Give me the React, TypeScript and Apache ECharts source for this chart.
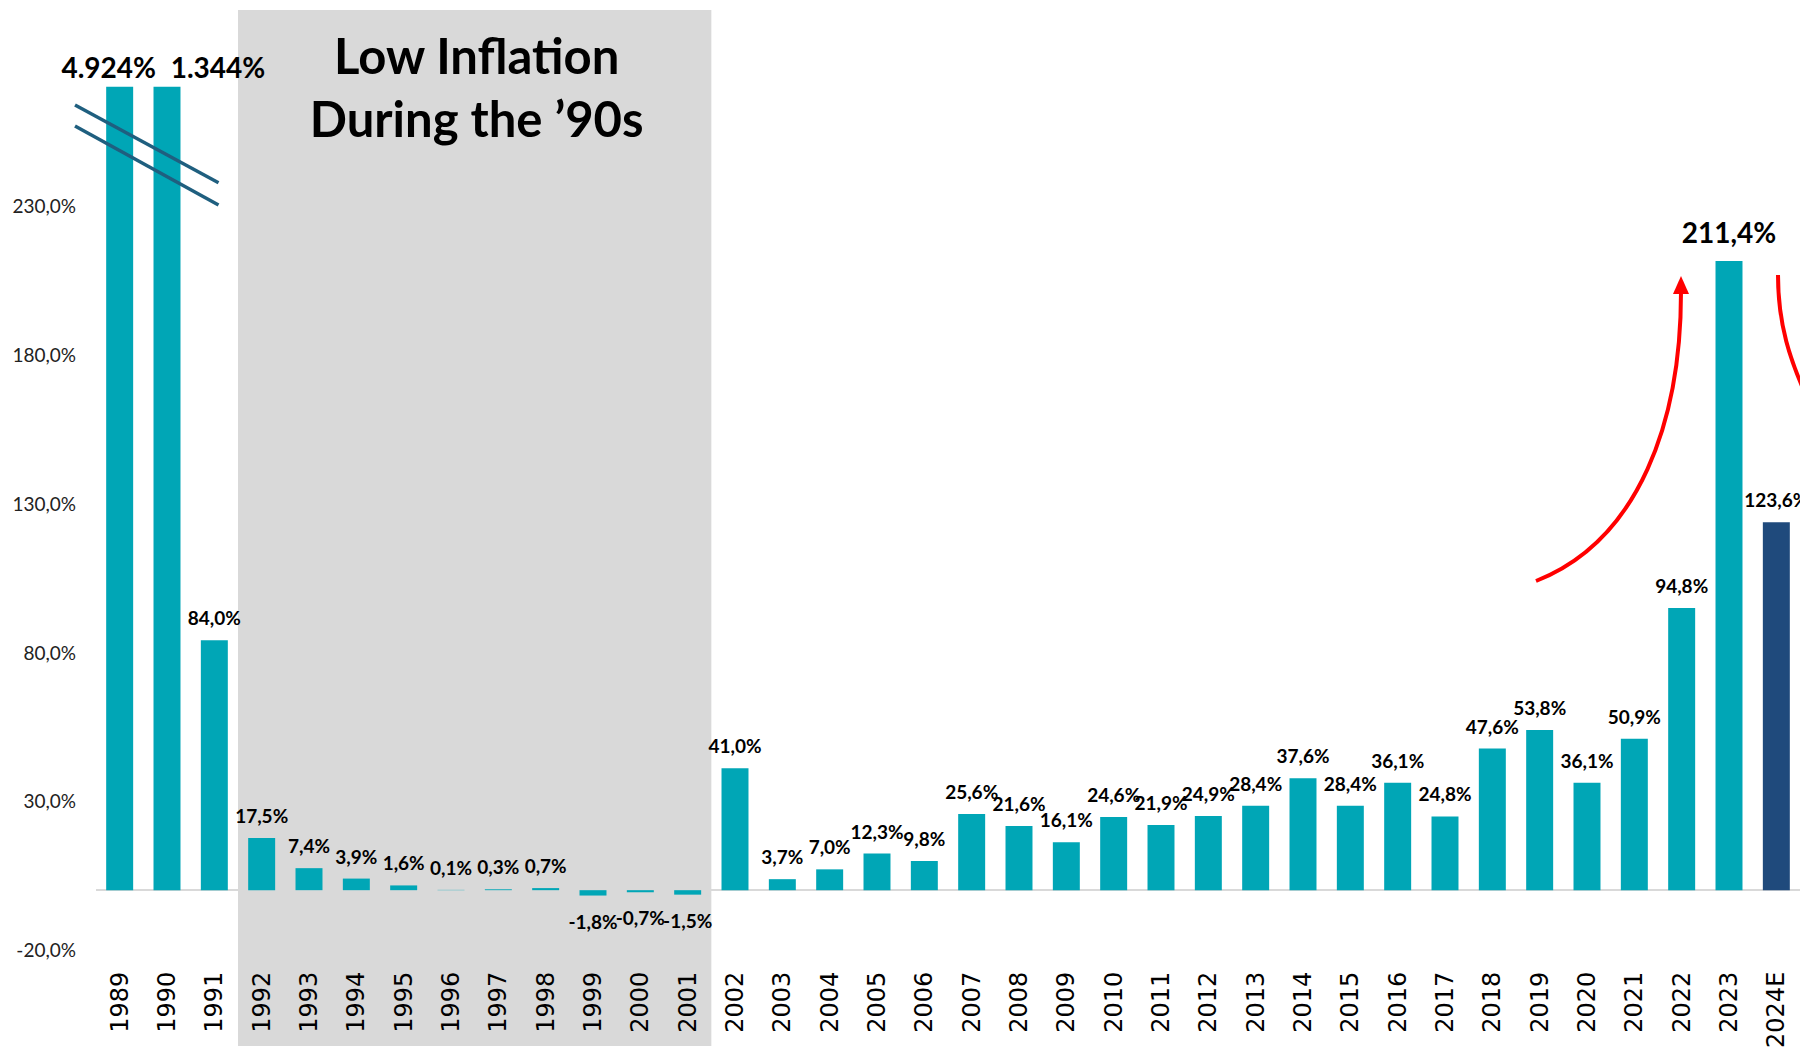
import React, { useEffect, useRef } from "react";
import * as echarts from "echarts";

// ---- data ----
const years = [
  "1989", "1990", "1991", "1992", "1993", "1994", "1995", "1996", "1997", "1998",
  "1999", "2000", "2001", "2002", "2003", "2004", "2005", "2006", "2007", "2008",
  "2009", "2010", "2011", "2012", "2013", "2014", "2015", "2016", "2017", "2018",
  "2019", "2020", "2021", "2022", "2023", "2024E",
];
const inflation = [
  4924, 1344, 84.0, 17.5, 7.4, 3.9, 1.6, 0.1, 0.3, 0.7,
  -1.8, -0.7, -1.5, 41.0, 3.7, 7.0, 12.3, 9.8, 25.6, 21.6,
  16.1, 24.6, 21.9, 24.9, 28.4, 37.6, 28.4, 36.1, 24.8, 47.6,
  53.8, 36.1, 50.9, 94.8, 211.4, 123.6,
];
const estimateYears = ["2024E"];
const emphasizedYears = ["1989", "1990", "2023"];
const yTickValues = [-20, 30, 80, 130, 180, 230];
const shadedFrom = "1992";
const shadedTo = "2001";
const shadedTitle = ["Low Inflation", "During the \u201990s"];

// ---- layout / style ----
const W = 1800;
const H = 1051;
const GRID_LEFT = 96;
const GRID_RIGHT = 0;
const GRID_TOP = 86.7;
const GRID_BOTTOM = 101.3;
const Y_MIN = -20;
const Y_MAX = 270;
const TEAL = "#00a6b6";
const NAVY = "#1f4a7c";
const FONT = "Lato, 'Noto Sans', sans-serif";
const labelOffsets: Record<string, [number, number]> = {
  "1989": [-11, 0],
  "1990": [51, 0],
};

function fmtPct(v: number): string {
  if (Math.abs(v) >= 1000) {
    const s = Math.round(v).toString();
    return s.replace(/\B(?=(\d{3})+(?!\d))/g, ".") + "%";
  }
  return v.toFixed(1).replace(".", ",") + "%";
}

export default function App() {
  const ref = useRef<HTMLDivElement>(null);

  useEffect(() => {
    if (!ref.current) return;
    const chart = echarts.init(ref.current, undefined, { renderer: "svg" });

    const bandW = (W - GRID_LEFT - GRID_RIGHT) / years.length;
    const iFrom = years.indexOf(shadedFrom);
    const iTo = years.indexOf(shadedTo);
    const boxX = GRID_LEFT + iFrom * bandW;
    const boxW = (iTo - iFrom + 1) * bandW;

    const data = inflation.map((v, i) => {
      const y = years[i];
      const big = emphasizedYears.includes(y);
      const neg = v < 0;
      return {
        value: Math.min(v, Y_MAX),
        itemStyle: { color: estimateYears.includes(y) ? NAVY : TEAL },
        label: {
          show: true,
          position: neg ? "bottom" : "top",
          distance: big ? (v > Y_MAX ? 6 : 15) : neg ? 16 : 13,
          offset: labelOffsets[y] || [0, 0],
          fontSize: big ? 28 : 19,
          fontWeight: "bold",
          fontFamily: FONT,
          color: "#000",
          formatter: () => fmtPct(v),
        },
      };
    });

    chart.setOption({
      animation: false,
      backgroundColor: "#fff",
      grid: {
        left: GRID_LEFT,
        right: GRID_RIGHT,
        top: GRID_TOP,
        bottom: GRID_BOTTOM,
        containLabel: false,
        outerBoundsMode: "none",
      },
      xAxis: {
        type: "category",
        data: years,
        axisLine: { show: false, onZero: false },
        axisTick: { show: false },
        axisLabel: {
          interval: 0,
          rotate: 90,
          margin: 22,
          fontSize: 24,
          fontFamily: "'DejaVu Sans', sans-serif",
          color: "#000",
        },
      },
      yAxis: {
        type: "value",
        min: Y_MIN,
        max: Y_MAX,
        splitLine: { show: false },
        axisLine: { show: false },
        axisTick: { show: false },
        axisLabel: {
          customValues: yTickValues,
          margin: 20,
          fontSize: 19,
          fontFamily: FONT,
          color: "#222",
          formatter: (v: number) => v.toFixed(1).replace(".", ",") + "%",
        },
      },
      series: [
        {
          type: "bar",
          data,
          barWidth: "57%",
          z: 3,
          markLine: {
            silent: true,
            symbol: "none",
            label: { show: false },
            lineStyle: { color: "#d9d9d9", width: 2, type: "solid" },
            data: [{ yAxis: 0 }],
            z: 1,
          },
        },
      ],
      graphic: [
        {
          type: "rect",
          z: -10,
          silent: true,
          shape: { x: boxX, y: 10, width: boxW, height: 1036 },
          style: { fill: "#d9d9d9" },
        },
        {
          type: "text",
          z: 50,
          silent: true,
          x: boxX + boxW / 2 + 2,
          y: 86,
          style: {
            text: shadedTitle.join("\n"),
            font: "bold 49px " + FONT,
            fill: "#000",
            align: "center",
            verticalAlign: "middle",
            lineHeight: 63,
          },
        },
        {
          type: "line",
          z: 100,
          silent: true,
          shape: { x1: 75, y1: 105, x2: 218.5, y2: 182.7 },
          style: { stroke: "#1f5f7f", lineWidth: 3.5 },
        },
        {
          type: "line",
          z: 100,
          silent: true,
          shape: { x1: 75, y1: 126, x2: 218.5, y2: 205 },
          style: { stroke: "#1f5f7f", lineWidth: 3.5 },
        },
        {
          type: "bezierCurve",
          z: 100,
          silent: true,
          shape: { x1: 1536, y1: 581, cpx1: 1640, cpy1: 540, cpx2: 1681, cpy2: 420, x2: 1681, y2: 292 },
          style: { stroke: "#ff0000", lineWidth: 4, fill: null },
        },
        {
          type: "polygon",
          z: 100,
          silent: true,
          shape: { points: [[1681, 276], [1673, 294], [1689, 294]] },
          style: { fill: "#ff0000" },
        },
        {
          type: "bezierCurve",
          z: 100,
          silent: true,
          shape: { x1: 1778, y1: 275, cpx1: 1778, cpy1: 325, cpx2: 1790, cpy2: 360, x2: 1808, y2: 400 },
          style: { stroke: "#ff0000", lineWidth: 4, fill: null },
        },
      ],
    });

    return () => chart.dispose();
  }, []);

  return (
    <div
      ref={ref}
      style={{ position: "absolute", left: 0, top: 0, width: W, height: H }}
    />
  );
}
